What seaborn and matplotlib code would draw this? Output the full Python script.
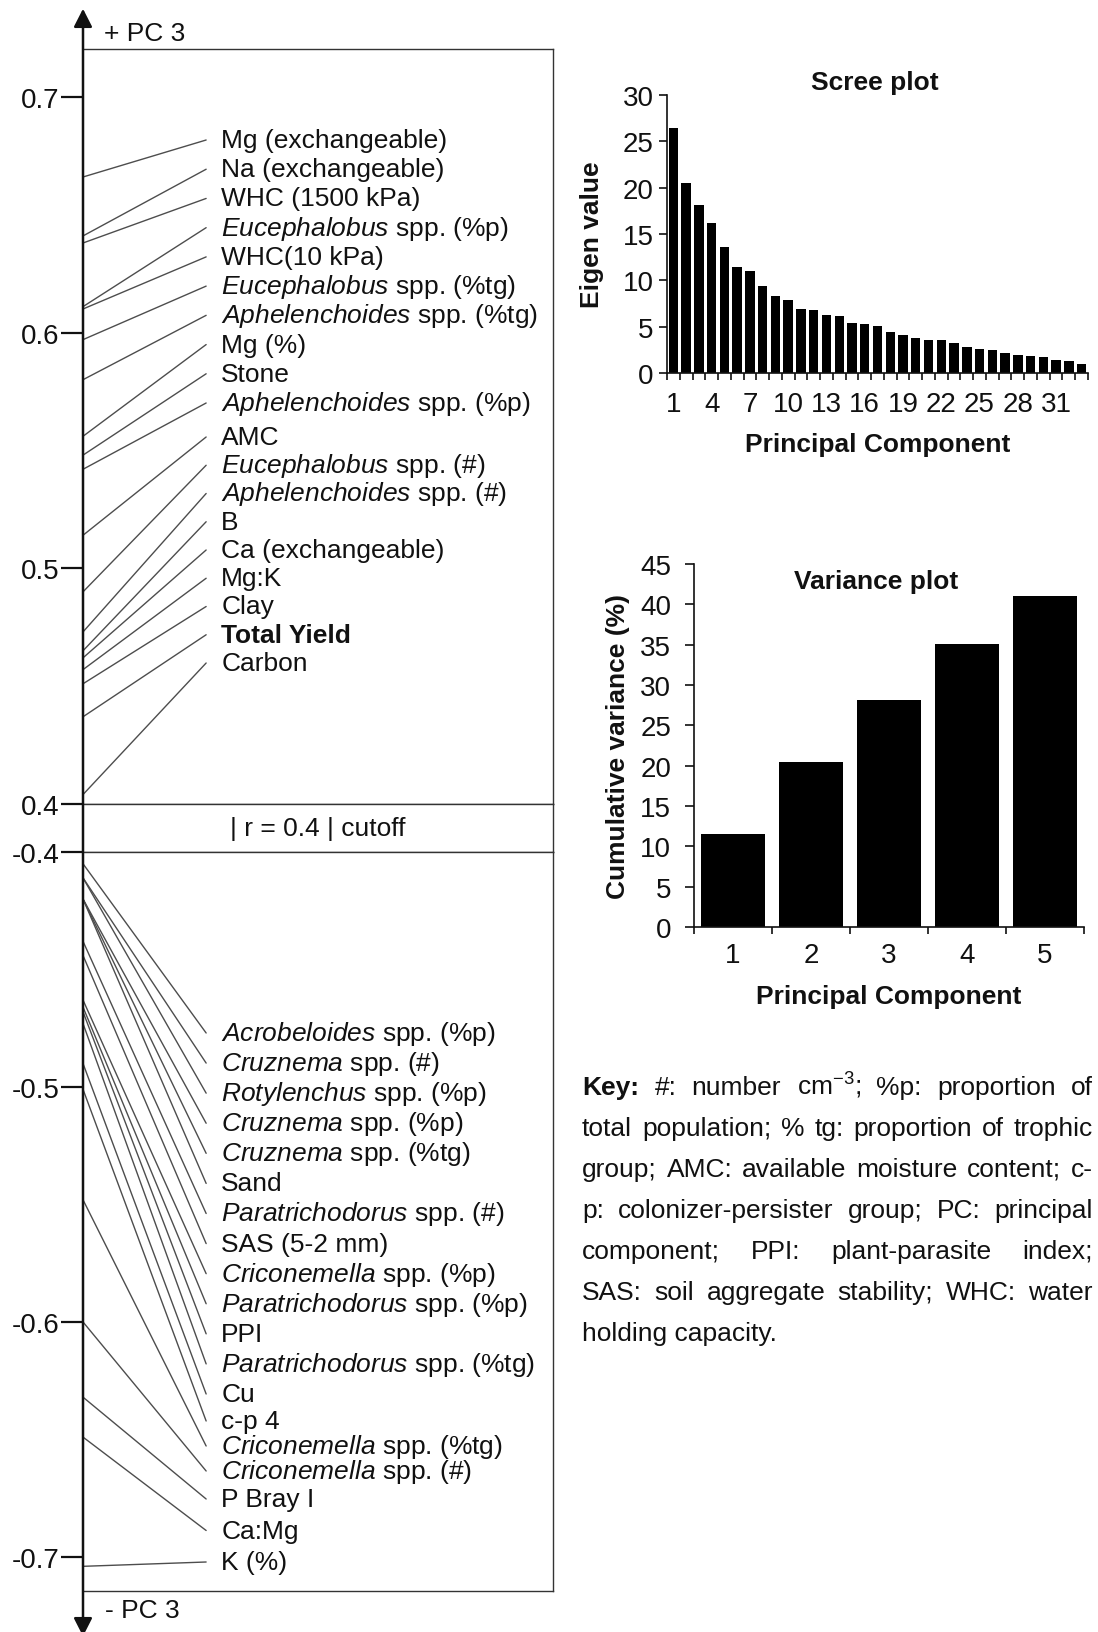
import numpy as np
import pandas as pd
import matplotlib
matplotlib.use("Agg")
import matplotlib.pyplot as plt
from matplotlib.patches import FancyArrowPatch, ArrowStyle
import seaborn as sns

# ---------------------------------------------------------------- data
pos_labels = ["Mg (exchangeable)", "Na (exchangeable)", "WHC (1500 kPa)",
              "Eucephalobus spp. (%p)", "WHC(10 kPa)", "Eucephalobus spp. (%tg)",
              "Aphelenchoides spp. (%tg)", "Mg (%)", "Stone",
              "Aphelenchoides spp. (%p)", "AMC", "Eucephalobus spp. (#)",
              "Aphelenchoides spp. (#)", "B", "Ca (exchangeable)", "Mg:K", "Clay",
              "Total Yield", "Carbon"]
pos_loadings = [0.666, 0.641, 0.638, 0.611, 0.610, 0.597, 0.580, 0.556, 0.548,
                0.542, 0.514, 0.490, 0.473, 0.465, 0.462, 0.457, 0.451, 0.437,
                0.404]

neg_labels = ["Acrobeloides spp. (%p)", "Cruznema spp. (#)", "Rotylenchus spp. (%p)",
              "Cruznema spp. (%p)", "Cruznema spp. (%tg)", "Sand",
              "Paratrichodorus spp. (#)", "SAS (5-2 mm)", "Criconemella spp. (%p)",
              "Paratrichodorus spp. (%p)", "PPI", "Paratrichodorus spp. (%tg)",
              "Cu", "c-p 4", "Criconemella spp. (%tg)", "Criconemella spp. (#)",
              "P Bray I", "Ca:Mg", "K (%)"]
neg_loadings = [-0.405, -0.411, -0.411, -0.420, -0.420, -0.420, -0.438, -0.444,
                -0.463, -0.466, -0.468, -0.473, -0.490, -0.501, -0.548, -0.600,
                -0.632, -0.649, -0.704]

genera = ["Eucephalobus", "Aphelenchoides", "Acrobeloides", "Cruznema",
          "Rotylenchus", "Paratrichodorus", "Criconemella"]
bold_labels = ["Total Yield"]

scree_pc = list(range(1, 34))
scree_eigen = [26.4, 20.5, 18.1, 16.2, 13.6, 11.4, 11.0, 9.4, 8.3, 7.9, 6.95,
               6.8, 6.3, 6.1, 5.4, 5.3, 5.1, 4.45, 4.05, 3.75, 3.6, 3.6, 3.2,
               2.8, 2.6, 2.5, 2.2, 1.95, 1.8, 1.7, 1.4, 1.25, 1.0]

var_pc = [1, 2, 3, 4, 5]
var_cum = [11.5, 20.4, 28.2, 35.1, 41.0]

key_lines = ["Key: #: number cm$^{-3}$; %p: proportion of",
             "total population; % tg: proportion of trophic",
             "group; AMC: available moisture content; c-",
             "p: colonizer-persister group; PC: principal",
             "component; PPI: plant-parasite index;",
             "SAS: soil aggregate stability; WHC: water",
             "holding capacity."]

# ---------------------------------------------------------------- style
sns.set_theme(style="ticks")
plt.rcParams["font.family"] = ["Liberation Sans", "DejaVu Sans"]
plt.rcParams["mathtext.fontset"] = "custom"
plt.rcParams["mathtext.rm"] = "Liberation Sans"
plt.rcParams["mathtext.it"] = "Liberation Sans:italic"
plt.rcParams["mathtext.bf"] = "Liberation Sans:bold"
plt.rcParams["axes.unicode_minus"] = False

INK = "#111111"
LINE = "#4d4d4d"
FS_LAB = 19      # variable labels
FS_TICK = 20     # tick labels
FS_AX = 19       # axis labels / titles
FS_KEY = 19

W, H = 1098, 1633
fig = plt.figure(figsize=(W / 100, H / 100), dpi=100)


def rect(x0, y0, x1, y1):
    """Pixel box (origin top-left) -> figure-fraction rectangle."""
    return [x0 / W, 1 - y1 / H, (x1 - x0) / W, (y1 - y0) / H]


def fmt_label(name):
    for g in genera:
        if name.startswith(g):
            return r"$\mathit{" + g + "}$" + name[len(g):]
    return name


# ---------------------------------------------------------------- loadings panel
BX0, BX1 = 83, 553
TOP_BOX = (BX0, 50, BX1, 805)
MID_BOX = (BX0, 805, BX1, 853)
BOT_BOX = (BX0, 853, BX1, 1592)

ax_top = fig.add_axes(rect(*TOP_BOX))
ax_mid = fig.add_axes(rect(*MID_BOX))
ax_bot = fig.add_axes(rect(*BOT_BOX))

ax_top.set_ylim(0.4, 0.7203)
ax_bot.set_ylim(-0.7145, -0.4)

X_END, X_TXT = 0.262, 0.294

# label slots (pixel rows), laid out as evenly spaced runs
top_rows = np.concatenate([np.linspace(141, 404, 10), np.linspace(438, 664, 9)])
bot_rows = np.concatenate([np.linspace(1034, 1395, 13),
                           np.linspace(1422, 1472, 3),
                           np.linspace(1500, 1563, 3)])


def rows_to_data(ax, box, rows):
    y0, y1 = ax.get_ylim()
    frac = (box[3] - rows) / (box[3] - box[1])
    return y0 + frac * (y1 - y0)


def draw_group(ax, box, labels, loadings, rows):
    slots = rows_to_data(ax, box, rows)
    seg = pd.DataFrame({
        "name": np.repeat(labels, 2),
        "x": np.tile([0.0, X_END], len(labels)),
        "y": np.column_stack([loadings, slots]).ravel(),
    })
    sns.lineplot(data=seg, x="x", y="y", units="name", estimator=None,
                 sort=False, color=LINE, lw=1.0, ax=ax, legend=False)
    for lab, sy in zip(labels, slots):
        ax.text(X_TXT, sy, fmt_label(lab), va="center", ha="left",
                fontsize=FS_LAB, color=INK,
                fontweight="bold" if lab in bold_labels else "normal")


draw_group(ax_top, TOP_BOX, pos_labels, pos_loadings, top_rows)
draw_group(ax_bot, BOT_BOX, neg_labels, neg_loadings, bot_rows)

ax_top.set_yticks([0.4, 0.5, 0.6, 0.7], ["0.4", "0.5", "0.6", "0.7"])
ax_bot.set_yticks([-0.4, -0.5, -0.6, -0.7], ["-0.4", "-0.5", "-0.6", "-0.7"])

for ax in (ax_top, ax_mid, ax_bot):
    ax.set_xlim(0, 1)
    ax.set_xlabel("")
    ax.set_ylabel("")
    ax.set_xticks([])
    for s in ("top", "right", "bottom"):
        ax.spines[s].set_visible(True)
        ax.spines[s].set_linewidth(1.0)
        ax.spines[s].set_color("#333333")
    ax.spines["left"].set_visible(False)
    ax.tick_params(axis="y", left=True, direction="out", length=16, width=1.6,
                   color=INK, labelsize=FS_TICK, labelcolor=INK, pad=1)
ax_mid.set_yticks([])
ax_mid.set_ylim(0, 1)
ax_mid.text(0.5, 0.5, "| r = 0.4 | cutoff", ha="center", va="center",
            fontsize=FS_LAB, color=INK)

# vertical PC 3 axis with arrows at both ends
axis_arrow = FancyArrowPatch(
    posA=(BX0 / W, 1 - 1640 / H), posB=(BX0 / W, 1 - 7 / H),
    transform=fig.transFigure,
    arrowstyle=ArrowStyle("<|-|>", head_length=0.55, head_width=0.28),
    mutation_scale=20, lw=1.8, color=INK)
fig.add_artist(axis_arrow)
fig.text(104 / W, 1 - 34 / H, "+ PC 3", ha="left", va="center",
         fontsize=FS_LAB, color=INK)
fig.text(105 / W, 1 - 1611 / H, "- PC 3", ha="left", va="center",
         fontsize=FS_LAB, color=INK)


# ---------------------------------------------------------------- bar panels
def bar_panel(box, pcs, vals, width, ymax, label_pos, title, title_xy,
              ylabel, ylab_x, xlab_y, ytick_len, ypad, xpad):
    ax = fig.add_axes(rect(*box))
    sns.barplot(x=pcs, y=vals, color="black", saturation=1, width=width,
                errorbar=None, edgecolor="none", ax=ax)
    n = len(pcs)
    ax.set_xlim(-0.5, n - 0.5)
    ax.set_ylim(0, ymax)
    ax.set_yticks(np.arange(0, ymax + 1, 5))
    ax.set_xticks(label_pos, [str(pcs[i]) for i in label_pos])
    ax.set_xticks(np.arange(-0.5, n, 1), minor=True)
    ax.tick_params(axis="x", which="major", length=0, labelsize=FS_TICK,
                   labelcolor=INK, pad=xpad)
    ax.tick_params(axis="x", which="minor", bottom=True, direction="out",
                   length=5, width=1.2, color=INK)
    ax.tick_params(axis="y", left=True, direction="out", length=ytick_len,
                   width=1.2, color=INK, labelsize=FS_TICK, labelcolor=INK,
                   pad=ypad)
    sns.despine(ax=ax)
    for s in ("left", "bottom"):
        ax.spines[s].set_linewidth(1.2)
        ax.spines[s].set_color(INK)
    ax.set_xlabel("Principal Component", fontsize=FS_AX, fontweight="bold",
                  color=INK)
    ax.xaxis.label.set_va("center")
    ax.xaxis.set_label_coords(0.5, xlab_y)
    ax.set_ylabel(ylabel, fontsize=FS_AX, fontweight="bold", color=INK)
    ax.yaxis.label.set_va("center")
    ax.yaxis.set_label_coords(ylab_x, 0.5)
    ax.text(title_xy[0], title_xy[1], title, transform=ax.transAxes,
            ha="center", va="center", fontsize=FS_AX, fontweight="bold",
            color=INK)
    return ax


bar_panel((667, 96, 1088, 374), scree_pc, scree_eigen, 0.74, 30,
          list(range(0, 33, 3)), "Scree plot", (0.494, 1.046),
          "Eigen value", -0.179, -0.255, ytick_len=5.5, ypad=4, xpad=13)
bar_panel((694, 565, 1084, 928), var_pc, var_cum, 0.82, 45,
          list(range(5)), "Variance plot", (0.467, 0.953),
          "Cumulative variance (%)", -0.195, -0.19, ytick_len=6.5, ypad=10,
          xpad=11)

# ---------------------------------------------------------------- key text (justified)
renderer = fig.canvas.get_renderer()
KX0, KX1 = 582, 1093
KY0, KDY = 1087, 41
for i, line in enumerate(key_lines):
    base = 1 - (KY0 + KDY * i + 8) / H
    if i == len(key_lines) - 1:
        fig.text(KX0 / W, base, line, ha="left", va="baseline",
                 fontsize=FS_KEY, color=INK)
        continue
    words = line.split(" ")
    arts = [fig.text(0, base, w, ha="left", va="baseline", fontsize=FS_KEY,
                     color=INK,
                     fontweight="bold" if w == "Key:" else "normal")
            for w in words]
    widths = [a.get_window_extent(renderer).width for a in arts]
    gap = (KX1 - KX0 - sum(widths)) / (len(arts) - 1)
    x = KX0
    for a, wd in zip(arts, widths):
        a.set_x(x / W)
        x += wd + gap

fig.savefig("out.png", dpi=100, facecolor="white")
